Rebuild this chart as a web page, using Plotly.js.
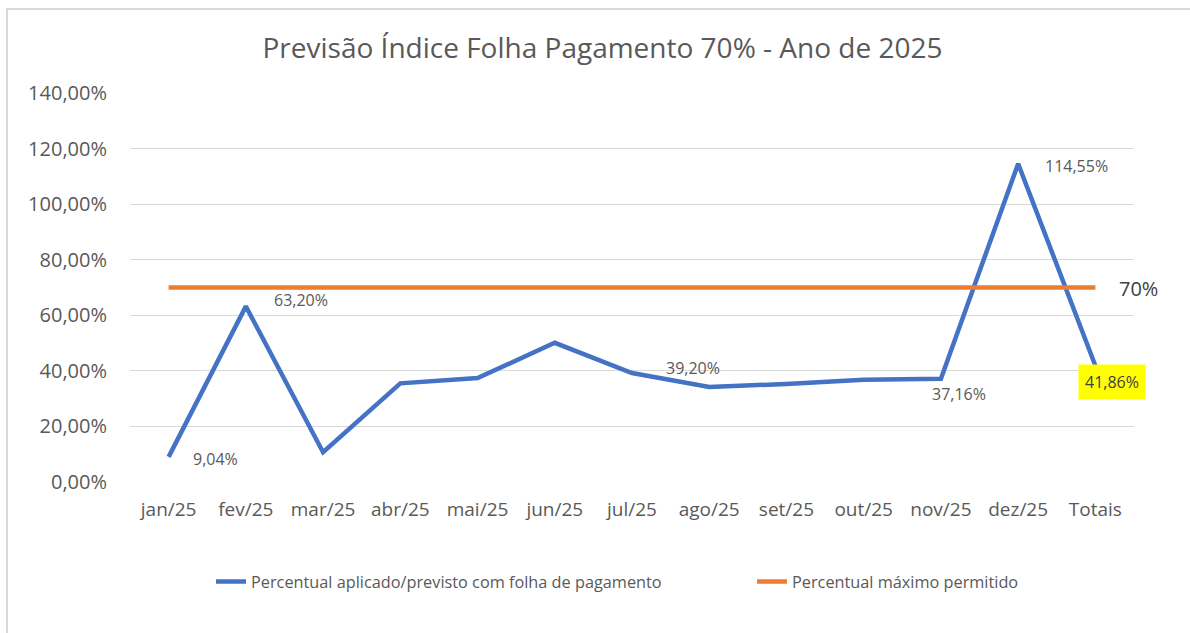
<!DOCTYPE html>
<html>
<head>
<meta charset="utf-8">
<script src="https://cdn.plot.ly/plotly-3.0.1.min.js"></script>
<style>
  html, body { margin: 0; padding: 0; background: #fff; }
  #chart { position: absolute; left: 0; top: 0; width: 1190px; height: 633px; }
  #frame { position: absolute; left: 6px; top: 8px; width: 1184px; height: 625px;
           border-left: 2px solid #d9d9d9; border-top: 2px solid #d9d9d9; pointer-events: none; }
</style>
</head>
<body>
<div id="chart"></div>
<div id="frame"></div>
<script>
const categories = ["jan/25","fev/25","mar/25","abr/25","mai/25","jun/25","jul/25","ago/25","set/25","out/25","nov/25","dez/25","Totais"];
const aplicado   = [9.04, 63.20, 10.7, 35.5, 37.4, 50.1, 39.20, 34.2, 35.3, 36.8, 37.16, 114.55, 41.86];
const maximo     = [70, 70, 70, 70, 70, 70, 70, 70, 70, 70, 70, 70, 70];
const seriesNames = ["Percentual aplicado/previsto com folha de pagamento", "Percentual máximo permitido"];
const labeledIdx = [0, 1, 6, 10, 11, 12];

const fmt = v => v.toFixed(2).replace('.', ',') + '%';
const FONT = "Open Sans";
const GREY = "#595959";

const traces = [
  { x: categories, y: aplicado, name: seriesNames[0], type: "scatter", mode: "lines",
    line: { color: "#4472C4", width: 4.5 }, hoverinfo: "x+y", legend: "legend" },
  { x: categories, y: maximo, name: seriesNames[1], type: "scatter", mode: "lines",
    line: { color: "#ED7D31", width: 4.5 }, hoverinfo: "x+y", legend: "legend2" }
];

const labelStyle = {
  0:  { xanchor: "left",   xshift: 22, yshift: -2 },
  1:  { xanchor: "left",   xshift: 26, yshift: 6 },
  6:  { xanchor: "left",   xshift: 32, yshift: 5 },
  10: { xanchor: "center", xshift: 18, yshift: -15 },
  11: { xanchor: "left",   xshift: 25, yshift: -2 },
  12: { xanchor: "center", xshift: 17, yshift: -16 }
};

const annotations = labeledIdx.map(i => {
  const s = labelStyle[i];
  const a = {
    x: categories[i], y: aplicado[i], xref: "x", yref: "y",
    text: fmt(aplicado[i]), showarrow: false,
    xanchor: s.xanchor, yanchor: "middle", xshift: s.xshift, yshift: s.yshift,
    font: { family: FONT, size: 16, color: GREY }
  };
  if (i === categories.length - 1) {
    a.bgcolor = "#FFFF00";
    a.borderpad = 6;
    a.font.color = "#404040";
  }
  return a;
});
const last = categories.length - 1;
annotations.push({
  x: categories[last], y: maximo[last], xref: "x", yref: "y",
  text: String(maximo[last]) + "%", showarrow: false,
  xanchor: "left", yanchor: "middle", xshift: 22, yshift: -1,
  font: { family: FONT, size: 20, color: "#404040" }
});

const legendCommon = {
  orientation: "h", xref: "container", yref: "container", xanchor: "left", yanchor: "middle",
  font: { family: FONT, size: 16.3, color: GREY }, bgcolor: "rgba(0,0,0,0)"
};

const layout = {
  width: 1190, height: 633,
  paper_bgcolor: "rgba(0,0,0,0)", plot_bgcolor: "rgba(0,0,0,0)",
  separators: ",.",
  margin: { l: 129.5, r: 55.5, t: 93, b: 151, autoexpand: false },
  title: { text: "Previsão Índice Folha Pagamento 70% - Ano de 2025",
           font: { family: FONT, size: 28, color: GREY },
           x: 602.5/1190, xref: "container", xanchor: "center",
           y: 1 - 48/633, yref: "container", yanchor: "middle" },
  xaxis: { type: "category", range: [-0.5, categories.length - 0.5],
           showgrid: false, zeroline: false, showline: false, tickangle: 0,
           ticks: "", ticklabelstandoff: 14,
           tickfont: { family: FONT, size: 19, color: GREY } },
  yaxis: { range: [0, 140], dtick: 20, tick0: 0, tickformat: ".2f", ticksuffix: "%",
           showgrid: true, gridcolor: "#D9D9D9", gridwidth: 1, zeroline: false, showline: false,
           ticks: "", ticklabelstandoff: 22,
           tickfont: { family: FONT, size: 20, color: GREY } },
  showlegend: true,
  legend:  Object.assign({}, legendCommon, { x: 211/1190, y: 1 - 582/633 }),
  legend2: Object.assign({}, legendCommon, { x: 752/1190, y: 1 - 582/633 }),
  annotations: annotations,
  hovermode: "closest"
};

Plotly.newPlot("chart", traces, layout, { displayModeBar: false });
</script>
</body>
</html>
